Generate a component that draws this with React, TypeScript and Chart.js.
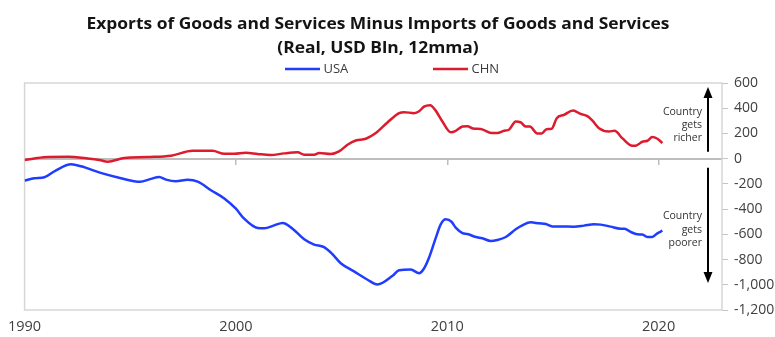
import { useEffect, useRef } from 'react';
import { Chart, registerables } from 'chart.js';

Chart.register(...registerables);

const titleLines = [
  'Exports of Goods and Services Minus Imports of Goods and Services',
  '(Real, USD Bln, 12mma)',
];
const seriesNames = ['USA', 'CHN'];
const seriesColors = ['#1f3cff', '#dc1b2e'];

const usaYears = [
  1990.0, 1990.46, 1990.94, 1991.49, 1992.2, 1992.67, 1993.6, 1994.56, 1995.46, 1995.98,
  1996.37, 1996.69, 1997.16, 1997.72, 1998.19, 1998.82, 1999.45, 2000.0, 2000.39, 2001.03,
  2001.34, 2001.81, 2002.21, 2002.68, 2003.23, 2003.7, 2004.17, 2004.57, 2004.96, 2005.59,
  2006.23, 2006.7, 2007.41, 2007.72, 2008.27, 2008.67, 2008.9, 2009.14, 2009.46, 2009.69,
  2009.93, 2010.2, 2010.4, 2010.72, 2010.95, 2011.35, 2011.66, 2012.06, 2012.37, 2012.77,
  2013.24, 2013.55, 2013.95, 2014.34, 2014.66, 2014.97, 2015.37, 2015.99, 2016.47, 2016.94,
  2017.26, 2017.73, 2018.2, 2018.39, 2018.68, 2018.99, 2019.23, 2019.47, 2019.7, 2019.94,
  2020.18,
];
const usaValues = [
  -174, -155, -147, -92, -45, -60, -113, -155, -184, -160,
  -145, -166, -179, -168, -182, -250, -315, -397, -476, -550,
  -552, -529, -510, -555, -639, -681, -702, -758, -829, -894,
  -960, -997, -929, -884, -879, -908, -871, -784, -626, -521,
  -481, -500, -547, -590, -597, -621, -631, -653, -645, -621,
  -560, -529, -505, -513, -518, -537, -537, -539, -531, -521,
  -523, -539, -555, -555, -581, -600, -602, -621, -621, -592,
  -571,
];

const chnYears = [
  1990.0, 1990.46, 1991.1, 1992.04, 1992.99, 1993.54, 1993.93, 1994.72, 1995.82, 1996.93,
  1997.95, 1998.9, 1999.45, 1999.92, 2000.47, 2001.03, 2001.65, 2002.28, 2002.92, 2003.23,
  2003.7, 2003.94, 2004.49, 2004.88, 2005.28, 2005.67, 2006.15, 2006.62, 2007.17, 2007.72,
  2007.96, 2008.43, 2008.67, 2008.9, 2009.19, 2009.46, 2009.77, 2010.17, 2010.4, 2010.72,
  2010.95, 2011.22, 2011.58, 2012.14, 2012.37, 2012.69, 2012.92, 2013.24, 2013.48, 2013.71,
  2013.91, 2014.26, 2014.47, 2014.7, 2014.94, 2015.18, 2015.52, 2015.95, 2016.31, 2016.63,
  2016.87, 2017.18, 2017.65, 2017.92, 2018.28, 2018.76, 2018.91, 2019.23, 2019.47, 2019.7,
  2019.94, 2020.18,
];
const chnValues = [
  -10, 2, 14, 15, 2, -10, -24, 5, 13, 24,
  62, 62, 39, 39, 47, 37, 29, 42, 50, 32,
  32, 45, 37, 58, 110, 144, 158, 203, 287, 361,
  369, 361, 376, 413, 424, 379, 295, 210, 221, 255,
  258, 239, 235, 203, 203, 221, 229, 295, 287, 255,
  255, 200, 200, 234, 237, 321, 347, 381, 355, 337,
  302, 242, 216, 221, 163, 103, 103, 134, 142, 171,
  158, 124,
];

const xTickValues = [1990, 2000, 2010, 2020];
const xMin = 1990;
const xMax = 2023;
const yMin = -1200;
const yMax = 600;
const yStep = 200;

const richerLines = ['Country', 'gets', 'richer'];
const poorerLines = ['Country', 'gets', 'poorer'];

const FONT = '"Open Sans", "Noto Sans", sans-serif';

const overlayPlugin = {
  id: 'overlay',
  beforeDatasetsDraw(chart: any) {
    const { ctx, chartArea: a } = chart;
    ctx.save();
    ctx.strokeStyle = '#d6d6d6';
    ctx.lineWidth = 1.5;
    ctx.strokeRect(a.left, a.top, a.right - a.left, a.bottom - a.top);
    ctx.restore();
  },
  afterDraw(chart: any) {
    const { ctx, chartArea: a } = chart;
    const yScale = chart.scales.y;
    const zero = yScale.getPixelForValue(0);
    ctx.save();

    // Title
    ctx.fillStyle = '#141414';
    ctx.textAlign = 'center';
    ctx.textBaseline = 'alphabetic';
    ctx.font = `bold 16.5px ${FONT}`;
    const w1 = ctx.measureText(titleLines[0]).width;
    const sx = 583 / w1;
    const cx = 378;
    ctx.save();
    ctx.translate(cx, 0);
    ctx.scale(sx, 1);
    ctx.fillText(titleLines[0], 0, 29);
    ctx.fillText(titleLines[1], 0, 53);
    ctx.restore();

    // Legend
    const legendX = [285, 433];
    ctx.font = `13px ${FONT}`;
    ctx.textAlign = 'left';
    ctx.textBaseline = 'middle';
    seriesNames.forEach((name, i) => {
      ctx.strokeStyle = seriesColors[i];
      ctx.lineWidth = 2.5;
      ctx.beginPath();
      ctx.moveTo(legendX[i], 69);
      ctx.lineTo(legendX[i] + 35, 69);
      ctx.stroke();
      ctx.fillStyle = '#3a3a3a';
      ctx.fillText(name, legendX[i] + 38.5, 69.5);
    });

    // Arrows
    const ax = a.right - 14;
    const drawArrow = (fromY: number, toY: number) => {
      const dir = toY < fromY ? -1 : 1;
      const headLen = 11;
      ctx.strokeStyle = '#000';
      ctx.fillStyle = '#000';
      ctx.lineWidth = 2;
      ctx.beginPath();
      ctx.moveTo(ax, fromY);
      ctx.lineTo(ax, toY - dir * headLen);
      ctx.stroke();
      ctx.beginPath();
      ctx.moveTo(ax, toY);
      ctx.lineTo(ax - 4.5, toY - dir * headLen);
      ctx.lineTo(ax + 4.5, toY - dir * headLen);
      ctx.closePath();
      ctx.fill();
    };
    drawArrow(zero - 7, a.top + 4);
    drawArrow(zero + 9, a.bottom - 27);

    // Annotation texts
    ctx.fillStyle = '#333';
    ctx.font = `10.5px ${FONT}`;
    ctx.textAlign = 'right';
    ctx.textBaseline = 'middle';
    const tx = a.right - 20;
    richerLines.forEach((t, i) => ctx.fillText(t, tx, zero - 46.3 + i * 12.8));
    poorerLines.forEach((t, i) => ctx.fillText(t, tx, zero + 57.7 + i * 13.3));

    ctx.restore();
  },
};

export default function App() {
  const canvasRef = useRef<HTMLCanvasElement | null>(null);

  useEffect(() => {
    const canvas = canvasRef.current;
    if (!canvas) return;
    const usaData = usaYears.map((x, i) => ({ x, y: usaValues[i] }));
    const chnData = chnYears.map((x, i) => ({ x, y: chnValues[i] }));

    const chart = new Chart(canvas, {
      type: 'line',
      data: {
        datasets: [
          {
            label: seriesNames[0],
            data: usaData,
            borderColor: seriesColors[0],
            backgroundColor: seriesColors[0],
            borderWidth: 2.5,
            pointRadius: 0,
            cubicInterpolationMode: 'monotone',
            xAxisID: 'x',
            yAxisID: 'y',
          },
          {
            label: seriesNames[1],
            data: chnData,
            borderColor: seriesColors[1],
            backgroundColor: seriesColors[1],
            borderWidth: 2.5,
            pointRadius: 0,
            cubicInterpolationMode: 'monotone',
            xAxisID: 'x',
            yAxisID: 'y',
          },
        ],
      },
      options: {
        animation: false,
        responsive: false,
        maintainAspectRatio: false,
        devicePixelRatio: 1,
        layout: { padding: { top: 83, left: 24, right: 0, bottom: 0 } },
        plugins: {
          legend: { display: false },
          title: { display: false },
          tooltip: { enabled: false },
        },
        scales: {
          x: {
            type: 'linear',
            position: 'bottom',
            min: xMin,
            max: xMax,
            grid: { display: false, drawTicks: false },
            border: { display: false },
            ticks: {
              font: { family: FONT, size: 14.5 },
              color: '#404040',
              padding: 8,
              maxRotation: 0,
              autoSkip: false,
              callback: (v: any) => String(v),
            },
            afterBuildTicks: (scale: any) => {
              scale.ticks = xTickValues.map((v) => ({ value: v }));
            },
            afterFit: (scale: any) => {
              scale.height = 27;
            },
          },
          x0: {
            type: 'linear',
            axis: 'x',
            position: { y: 0 },
            min: xMin,
            max: xMax,
            grid: {
              drawOnChartArea: false,
              drawTicks: true,
              tickLength: 5,
              color: '#bdbdbd',
              lineWidth: 1.5,
            },
            border: { display: true, color: '#bdbdbd', width: 2 },
            ticks: { display: false },
            afterBuildTicks: (scale: any) => {
              scale.ticks = xTickValues.filter((v) => v > xMin).map((v) => ({ value: v }));
            },
          },
          y: {
            type: 'linear',
            position: 'right',
            min: yMin,
            max: yMax,
            grid: {
              drawOnChartArea: false,
              drawTicks: true,
              tickLength: 6,
              color: '#c4c4c4',
            },
            border: { display: false },
            ticks: {
              stepSize: yStep,
              font: { family: FONT, size: 14 },
              color: '#404040',
              padding: 6,
              callback: (v: any) => Number(v).toLocaleString('en-US'),
            },
            afterFit: (scale: any) => {
              scale.width = 53;
            },
          },
        },
      } as any,
      plugins: [overlayPlugin],
    });

    return () => chart.destroy();
  }, []);

  return (
    <div style={{ position: 'absolute', left: 0, top: 0, width: 775, height: 337, background: '#fff' }}>
      <canvas ref={canvasRef} width={775} height={337} style={{ display: 'block' }} />
    </div>
  );
}
